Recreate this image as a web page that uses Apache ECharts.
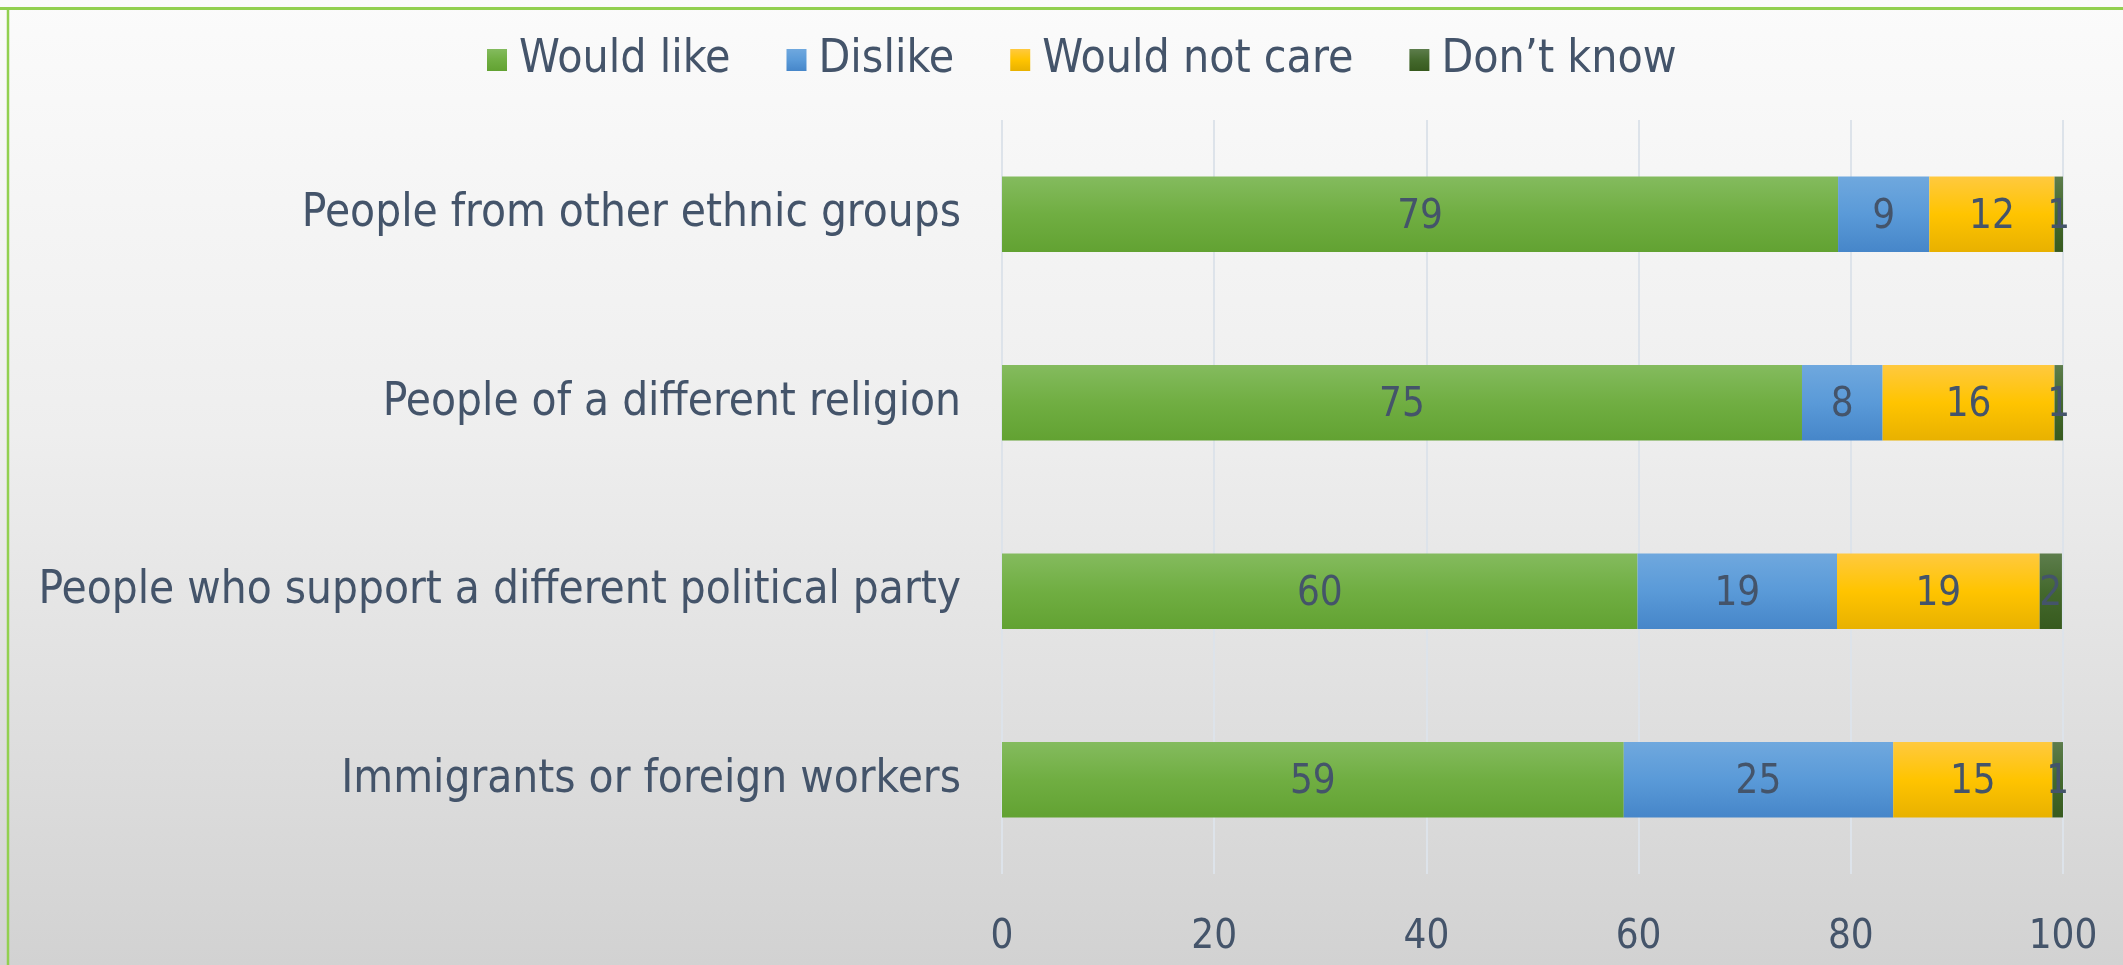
<!DOCTYPE html>
<html>
<head>
<meta charset="utf-8">
<script src="https://cdn.jsdelivr.net/npm/echarts@6/dist/echarts.min.js"></script>
<style>
  html, body { margin: 0; padding: 0; width: 2123px; height: 965px; overflow: hidden; }
  #chart { width: 2123px; height: 965px; }
</style>
</head>
<body>
<div id="chart"></div>
<script>
const categories = [
  'People from other ethnic groups',
  'People of a different religion',
  'People who support a different political party',
  'Immigrants or foreign workers'
];
const seriesNames = ['Would like', 'Dislike', 'Would not care', 'Don’t know'];
const wouldLike    = [78.8, 75.4, 59.9, 58.6];
const dislike      = [8.6, 7.6, 18.8, 25.4];
const wouldNotCare = [11.8, 16.2, 19.1, 15.0];
const dontKnow     = [0.8, 0.8, 2.1, 1.1];
const xTicks = [0, 20, 40, 60, 80, 100];

const FONT = '"DejaVu Sans Condensed", "DejaVu Sans", sans-serif';
const TEXT = '#44546a';

function grad(top, mid, bottom) {
  return { type: 'linear', x: 0, y: 0, x2: 0, y2: 1,
    colorStops: [{ offset: 0, color: top }, { offset: 0.5, color: mid }, { offset: 1, color: bottom }] };
}
const colors = [
  grad('#84bb5e', '#70ae42', '#62a232'),
  grad('#6fa8de', '#5a9ad8', '#4686c9'),
  grad('#ffc93f', '#ffc400', '#e8b100'),
  grad('#5d7d4c', '#44692d', '#375a1e')
];
const values = [wouldLike, dislike, wouldNotCare, dontKnow];

const chart = echarts.init(document.getElementById('chart'));
chart.setOption({
  backgroundColor: { type: 'linear', x: 0, y: 0, x2: 0, y2: 1,
    colorStops: [{ offset: 0, color: '#fbfbfb' }, { offset: 0.45, color: '#eeeeee' }, { offset: 1, color: '#d2d2d2' }] },
  animation: false,
  graphic: [
    { type: 'line', shape: { x1: 0, y1: 8.5, x2: 2123, y2: 8.5 }, style: { stroke: '#92d050', lineWidth: 3 } },
    { type: 'line', shape: { x1: 8, y1: 8.5, x2: 8, y2: 965 }, style: { stroke: '#92d050', lineWidth: 2.5 } }
  ],
  legend: {
    top: 32,
    left: 482,
    icon: 'rect',
    itemWidth: 20,
    itemHeight: 22,
    itemGap: 56,
    textStyle: { fontFamily: FONT, fontSize: 46, color: TEXT, padding: [0, 0, 0, 7] },
    data: seriesNames
  },
  grid: { left: 1002, right: 60, top: 120, bottom: 91, containLabel: false },
  xAxis: {
    type: 'value',
    min: xTicks[0],
    max: xTicks[xTicks.length - 1],
    interval: xTicks[1] - xTicks[0],
    axisLine: { show: false },
    axisTick: { show: false },
    splitLine: { show: true, lineStyle: { color: '#dde3ea', width: 2 } },
    axisLabel: { fontFamily: FONT, fontSize: 40, color: TEXT, margin: 44 }
  },
  yAxis: {
    type: 'category',
    inverse: true,
    data: categories,
    axisLine: { show: false },
    axisTick: { show: false },
    axisLabel: { fontFamily: FONT, fontSize: 45.5, color: TEXT, margin: 41 }
  },
  series: seriesNames.map((name, i) => ({
    name: name,
    type: 'bar',
    stack: 'total',
    barWidth: '40%',
    data: values[i],
    itemStyle: { color: colors[i] },
    label: {
      show: true,
      position: 'inside',
      fontFamily: FONT,
      fontSize: 40,
      color: TEXT,
      offset: [0, 3],
      formatter: p => String(Math.round(p.value))
    }
  }))
});
</script>
</body>
</html>
